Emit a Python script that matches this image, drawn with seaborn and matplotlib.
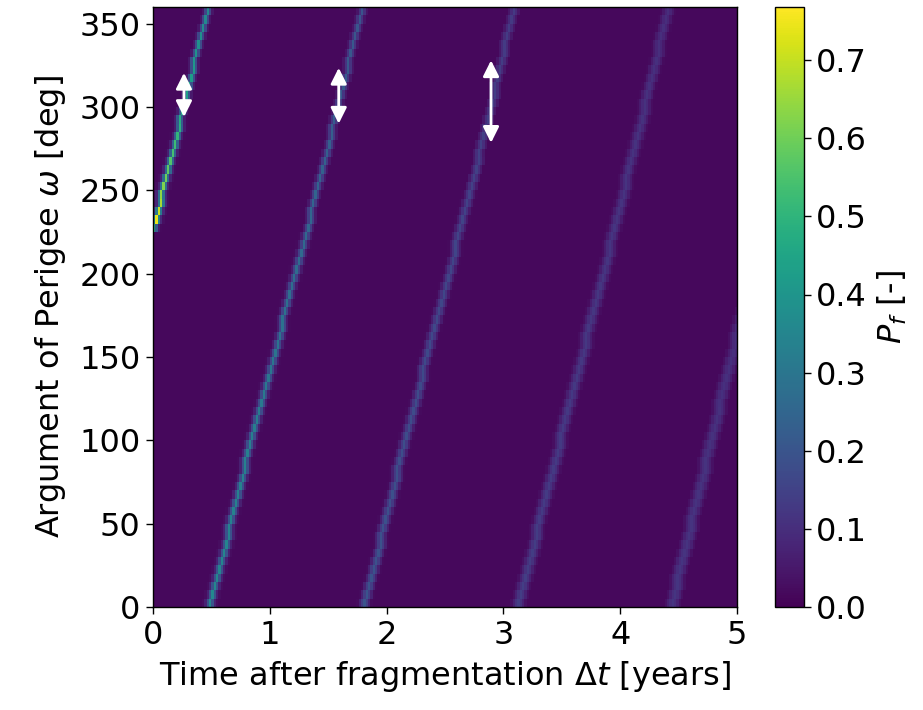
# Fragment cloud: probability P_f vs argument of perigee and time
import numpy as np
import matplotlib
matplotlib.use("Agg")
import matplotlib.pyplot as plt
import seaborn as sns

# ── grid resolution ──────────────────────────────────────────
DT    = 0.02     # years per column
DW    = 5.0      # degrees per row
T_MAX = 5.0
W_MAX = 360.0

# ── ridge lines (one list per stripe) ───
ridge_omega = [
    [225, 230, 245, 270, 300, 360],
    [0, 100, 200, 300, 360],
    [0, 100, 200, 300, 360],
    [0, 100, 200, 300, 360],
    [0, 100, 200],
]
ridge_time = [
    [0.00, 0.02, 0.07, 0.16, 0.265, 0.47],
    [0.49, 0.844, 1.224, 1.583, 1.79],
    [1.81, 2.16, 2.535, 2.90, 3.09],
    [3.125, 3.49, 3.857, 4.21, 4.415],
    [4.44, 4.78, 5.13],
]
ridge_peak = [
    [0.20, 0.76, 0.65, 0.55, 0.45, 0.35],
    [0.36, 0.33, 0.27, 0.22, 0.20],
    [0.20, 0.18, 0.16, 0.14, 0.13],
    [0.14, 0.13, 0.12, 0.11, 0.10],
    [0.12, 0.11, 0.10],
]
# fraction of the peak for columns 0, 1, 2, ... away from the ridge
cross_profile = [
    [1.0, 0.45, 0.12, 0.04],
    [1.0, 0.55, 0.20, 0.07],
    [1.0, 0.70, 0.35, 0.12, 0.04],
    [1.0, 0.80, 0.50, 0.22, 0.08],
    [1.0, 0.85, 0.60, 0.30, 0.12, 0.04],
]
BACKGROUND = 0.018

# arrows (t, omega bottom, omega top)
arrow_t     = [0.265, 1.59, 2.894]
arrow_w_bot = [294, 290, 278.5]
arrow_w_top = [320.5, 323.5, 328]

x_ticks = [0, 1, 2, 3, 4, 5]
y_ticks = [0, 50, 100, 150, 200, 250, 300, 350]

# ── build the table ──────────────────────────────────────────
n_cols = int(round(T_MAX / DT))
n_rows = int(round(W_MAX / DW))
grid = np.full((n_rows, n_cols), BACKGROUND)

for w_pts, t_pts, p_pts, prof in zip(ridge_omega, ridge_time, ridge_peak, cross_profile):
    for i in range(n_rows):
        w_c = (i + 0.5) * DW
        if w_c < w_pts[0] or w_c > w_pts[-1]:
            continue
        t_r  = np.interp(w_c, w_pts, t_pts)
        peak = np.interp(w_c, w_pts, p_pts)
        j_r  = int(round(t_r / DT - 0.5))
        for k, f in enumerate(prof):
            for j in {j_r - k, j_r + k}:
                if 0 <= j < n_cols:
                    grid[i, j] = max(grid[i, j], peak * f)

# ── plot ─────────────────────────────────────────────────────
FS_TICK  = 23
FS_LABEL = 23
fig = plt.figure(figsize=(9.23, 7.10), dpi=100)
ax  = fig.add_axes([153 / 923, 1 - 607 / 710, 584 / 923, 600 / 710])
cax = fig.add_axes([775 / 923, 1 - 607 / 710, 29 / 923, 600 / 710])

sns.heatmap(grid, ax=ax, cbar_ax=cax, cmap="viridis", vmin=0, vmax=0.768,
            xticklabels=False, yticklabels=False, rasterized=True,
            cbar_kws={"ticks": [0, 0.1, 0.2, 0.3, 0.4, 0.5, 0.6, 0.7]})
ax.invert_yaxis()

ax.set_xticks([t / DT for t in x_ticks])
ax.set_xticklabels([str(t) for t in x_ticks], rotation=0, fontsize=FS_TICK)
ax.set_yticks([w / DW for w in y_ticks])
ax.set_yticklabels([str(w) for w in y_ticks], rotation=0, fontsize=FS_TICK)
ax.tick_params(axis="both", length=5, width=1, color="black", pad=4)
for s in ax.spines.values():
    s.set_visible(True)
    s.set_linewidth(1.0)
    s.set_color("black")

ax.set_xlabel(r"Time after fragmentation $\Delta t$ [years]", fontsize=FS_LABEL, labelpad=6)
ax.set_ylabel(r"Argument of Perigee $\omega$ [deg]", fontsize=FS_LABEL, labelpad=8)

for t, wb, wt in zip(arrow_t, arrow_w_bot, arrow_w_top):
    ax.annotate("", xy=(t / DT, wt / DW), xytext=(t / DT, wb / DW),
                arrowprops=dict(arrowstyle="<|-|>", color="white", lw=2,
                                mutation_scale=24, shrinkA=0, shrinkB=0))

cbar = ax.collections[0].colorbar
cbar.outline.set_visible(True)
cbar.outline.set_linewidth(1.0)
cbar.outline.set_edgecolor("black")
cax.tick_params(labelsize=FS_TICK, length=5, width=1)
cbar.set_label(r"$P_f$ [-]", fontsize=FS_LABEL, labelpad=6)

plt.savefig("out.png", dpi=100)
